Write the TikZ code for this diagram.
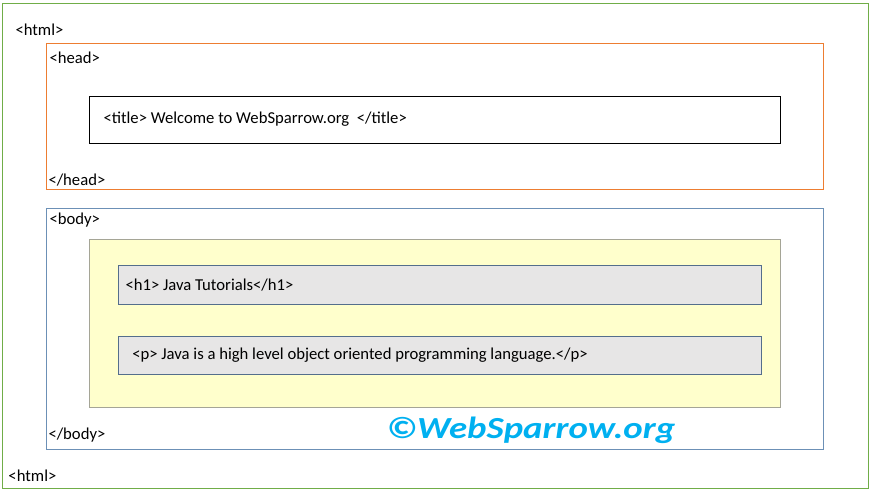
\documentclass[tikz,border=0pt]{standalone}
\usepackage{fontspec}
\setmainfont{Carlito}
\newfontfamily\markfont[FakeStretch=1.2]{Carlito}
\usepackage{xcolor}
\definecolor{htmlgreen}{RGB}{112,173,71}
\definecolor{headorange}{RGB}{237,125,49}
\definecolor{bodyblue}{RGB}{108,144,182}
\definecolor{divyellow}{RGB}{255,255,204}
\definecolor{divgray}{RGB}{165,165,150}
\definecolor{tagfill}{RGB}{231,230,230}
\definecolor{tagline}{RGB}{84,110,140}
\definecolor{markcyan}{RGB}{0,176,240}
\tikzset{tag/.style={anchor=base west,inner sep=0pt,font=\fontsize{12.5}{15}\selectfont}}

\begin{document}
\begin{tikzpicture}[x=0.75pt,y=-0.75pt,line width=0.75pt]
    \useasboundingbox (0,0) rectangle (871,490);
      \draw[htmlgreen] (2.5,3.5) rectangle (868.5,488.5);
      \draw[headorange] (46.5,43.5) rectangle (823.5,189.5);
      \draw[black] (89.5,96.5) rectangle (780.5,143.5);
      \draw[bodyblue] (46.5,208.5) rectangle (823.5,449.5);
      \draw[divgray,fill=divyellow] (89.5,239.5) rectangle (780.5,407.5);
      \draw[tagline,fill=tagfill] (118.5,265.5) rectangle (761.5,304.5);
      \draw[tagline,fill=tagfill] (118.5,336.5) rectangle (761.5,374.5);
      \node[tag] (htmlopen) at (15,35) {<html>};
      \node[tag] (headopen) at (49,63) {<head>};
      \node[tag] (title) at (103,123) {<title> Welcome to WebSparrow.org~ </title>};
      \node[tag] (headclose) at (48,185) {</head>};
      \node[tag] (bodyopen) at (49,224) {<body>};
      \node[tag] (hone) at (125,290) {<h1> Java Tutorials</h1>};
      \node[tag] (para) at (128,359) {~<p> Java is a high level object oriented programming language.</p>};
      \node[tag] (bodyclose) at (48,439) {</body>};
      \node[tag] (htmlclose) at (8,481) {<html>};
      \node[tag,font=\markfont\fontsize{23}{26}\selectfont\bfseries\itshape,text=markcyan] (mark) at (386,438) {©WebSparrow.org};
     \end{tikzpicture}
\end{document}
